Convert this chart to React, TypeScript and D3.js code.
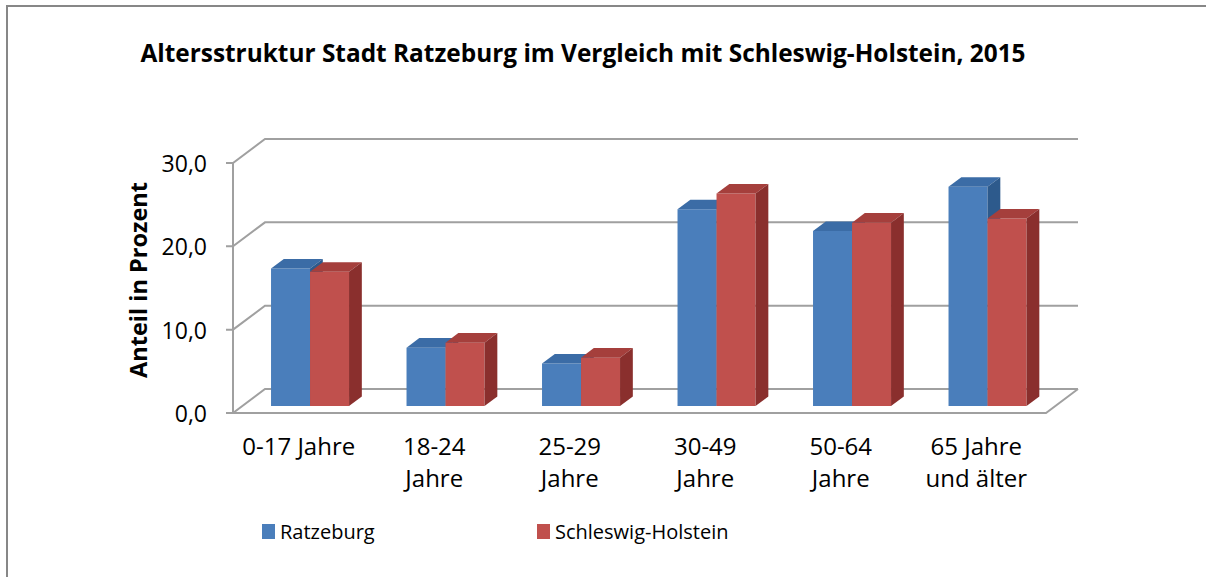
import React from 'react';
import * as d3 from 'd3';

const categories = ['0-17 Jahre', '18-24 Jahre', '25-29 Jahre', '30-49 Jahre', '50-64 Jahre', '65 Jahre und älter'];
const categoryLines = [['0-17 Jahre'], ['18-24', 'Jahre'], ['25-29', 'Jahre'], ['30-49', 'Jahre'], ['50-64', 'Jahre'], ['65 Jahre', 'und älter']];
const series = ['Ratzeburg', 'Schleswig-Holstein'];
const ratzeburg = [16.5, 7.0, 5.1, 23.6, 21.0, 26.3];
const schleswigHolstein = [16.1, 7.6, 5.8, 25.5, 22.0, 22.5];
const yTicks = [0, 10, 20, 30];

const W = 1206, H = 577;
const FONT = '"Open Sans", "Noto Sans", sans-serif';

// colours per series: front, top, side
const faces = [
  { front: '#4a7ebb', top: '#3b6ca6', side: '#2d5a8c' },
  { front: '#c0504d', top: '#a53f3c', side: '#8a2f2d' },
];

// oblique "3d" offset for full depth
const DX = 32, DY = -24;
const Z0 = 0.29, ZD = 0.4;

const App = () => {
  const x = d3.scaleBand<string>().domain(categories).range([233, 1046]);
  const xs = d3.scaleBand<string>().domain(series).range([0, x.bandwidth()]).paddingOuter(0.737);
  const y = d3.scaleLinear().domain([0, 30]).range([413, 163]);
  const fmt = (v: number) => d3.format('.1f')(v).replace('.', ',');

  const proj = (px: number, v: number, z: number) => [px + DX * z, y(v) + DY * z];
  const poly = (pts: number[][]) => pts.map(p => p.join(',')).join(' ');

  const values = [ratzeburg, schleswigHolstein];
  const x0 = x.range()[0], x1 = x.range()[1];

  return (
    <svg width={W} height={H} style={{ position: 'absolute', left: 0, top: 0, background: '#fff' }}>
      {/* frame */}
      <path d={`M7,${H + 10}V6H${W + 10}`} fill="none" stroke="#878787" strokeWidth={2} />

      <text x={583} y={62} textAnchor="middle" fontFamily={FONT} fontWeight="bold" fontSize={24.4}>
        Altersstruktur Stadt Ratzeburg im Vergleich mit Schleswig-Holstein, 2015
      </text>

      {/* walls, gridlines */}
      <g stroke="#a0a0a0" strokeWidth={2} fill="none">
        {yTicks.map(t => (
          <polyline key={t} points={poly([[x0 - 7, y(t)], proj(x0, t, 0), proj(x0, t, 1), proj(x1, t, 1)])} />
        ))}
        <line x1={x0} x2={x0} y1={y(0)} y2={y(30)} />
        <polyline points={poly([proj(x0, 0, 0), proj(x1, 0, 0), proj(x1, 0, 1)])} />
      </g>

      {yTicks.map(t => (
        <text key={t} x={207} y={y(t) + 9} textAnchor="end" fontFamily={FONT} fontSize={23}>{fmt(t)}</text>
      ))}

      <text transform="translate(147,280) rotate(-90)" textAnchor="middle" fontFamily={FONT} fontWeight="bold" fontSize={23.5}>
        Anteil in Prozent
      </text>

      {/* bars */}
      {categories.map((c, i) => (
        <g key={c}>
          {series.map((s, k) => {
            const v = values[k][i];
            const a = x(c)! + xs(s)!;
            const b = a + xs.bandwidth();
            const f = faces[k];
            return (
              <g key={s}>
                <polygon points={poly([proj(a, 0, Z0), proj(b, 0, Z0), proj(b, v, Z0), proj(a, v, Z0)])} fill={f.front} />
                <polygon points={poly([proj(a, v, Z0), proj(b, v, Z0), proj(b, v, Z0 + ZD), proj(a, v, Z0 + ZD)])} fill={f.top} />
                <polygon points={poly([proj(b, 0, Z0), proj(b, v, Z0), proj(b, v, Z0 + ZD), proj(b, 0, Z0 + ZD)])} fill={f.side} />
              </g>
            );
          })}
        </g>
      ))}

      {/* category labels */}
      {categories.map((c, i) => (
        <text key={c} textAnchor="middle" fontFamily={FONT} fontSize={24}>
          {categoryLines[i].map((l, j) => (
            <tspan key={j} x={x(c)! + x.bandwidth() / 2 - 2} y={455 + j * 32}>{l}</tspan>
          ))}
        </text>
      ))}

      {/* legend */}
      {series.map((s, k) => {
        const lx = k === 0 ? 262 : 537;
        return (
          <g key={s}>
            <rect x={lx} y={524} width={13} height={15} fill={faces[k].front} />
            <text x={lx + 18} y={539} fontFamily={FONT} fontSize={20}>{s}</text>
          </g>
        );
      })}
    </svg>
  );
};

export default App;
